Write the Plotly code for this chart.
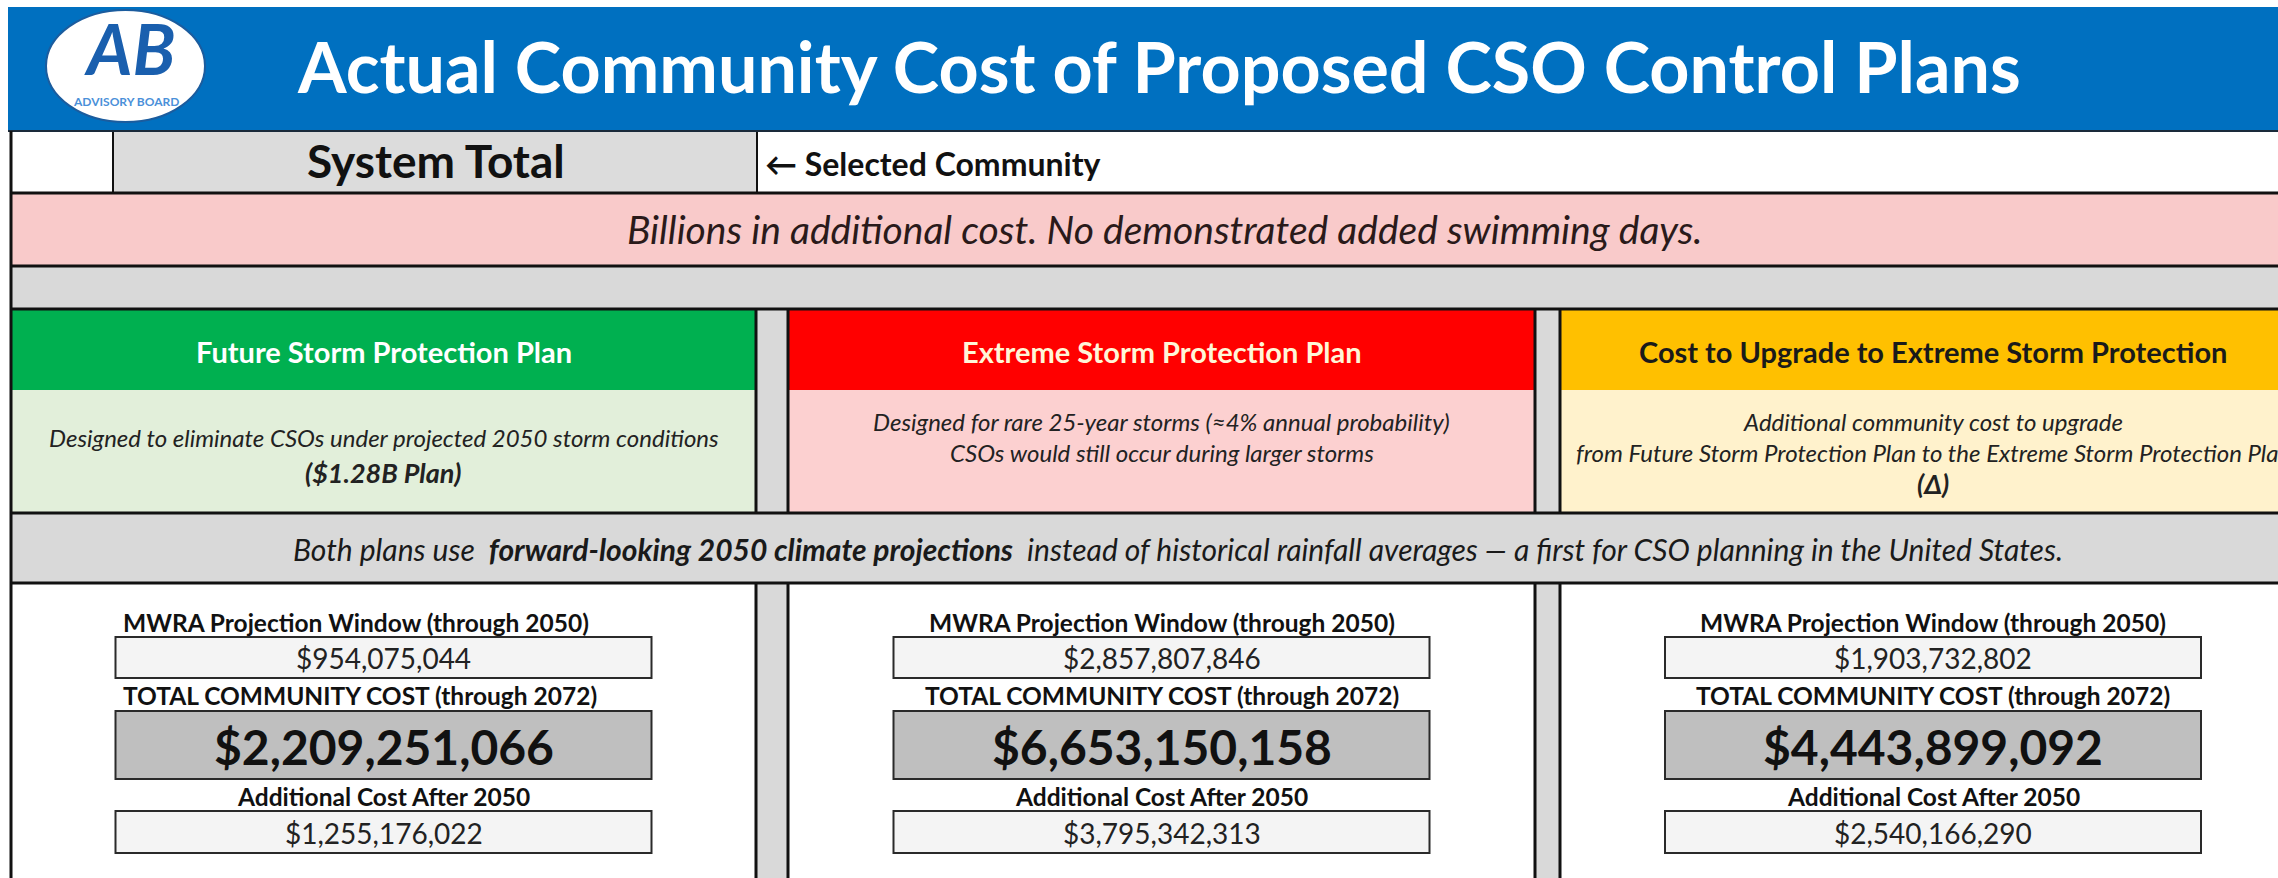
import plotly.graph_objects as go

W, H = 2278, 878

title = "Actual Community Cost of Proposed CSO Control Plans"
community = "System Total"
selected_note = "← Selected Community"
banner = "Billions in additional cost. No demonstrated added swimming days."
climate_note = ("Both plans use  <b>forward-looking 2050 climate projections</b>  instead of historical "
                "rainfall averages — a first for CSO planning in the United States.")

plans = ["Future Storm Protection Plan", "Extreme Storm Protection Plan",
         "Cost to Upgrade to Extreme Storm Protection"]
plan_notes = [
    ["Designed to eliminate CSOs under projected 2050 storm conditions", "<b>($1.28B Plan)</b>"],
    ["Designed for rare 25-year storms (≈4% annual probability)", "CSOs would still occur during larger storms"],
    ["Additional community cost to upgrade",
     "from Future Storm Protection Plan to the Extreme Storm Protection Plan", "<b>(Δ)</b>"],
]
value_labels = ["MWRA Projection Window (through 2050)", "TOTAL COMMUNITY COST (through 2072)",
                "Additional Cost After 2050"]
mwra_2050 = [954075044, 2857807846, 1903732802]
total_2072 = [2209251066, 6653150158, 4443899092]
after_2050 = [1255176022, 3795342313, 2540166290]

head_fill = ["#00b050", "#ff0000", "#ffc000"]
head_font = ["#ffffff", "#fff6d8", "#1a1a1a"]
note_fill = ["#e2efda", "#fcd0d0", "#fff2cc"]

FONT = "Lato"
INK = "#111111"

# column extents (pixels); the third column runs past the right edge
cols = [(11, 756), (788, 1535), (1560, 2306)]
seps = [(756, 788), (1535, 1560)]

fig = go.Figure()
shapes = []
ann = []


def rect(x0, y0, x1, y1, fill, line=None, lw=0):
    shapes.append(dict(type="rect", xref="x", yref="y", x0=x0, y0=y0, x1=x1, y1=y1,
                       fillcolor=fill, line=dict(color=line or fill, width=lw), layer="below"))


def hline(y, x0=11, x1=W, lw=3, color=INK):
    shapes.append(dict(type="line", xref="x", yref="y", x0=x0, x1=x1, y0=y, y1=y,
                       line=dict(color=color, width=lw)))


def vline(x, y0, y1, lw=3, color=INK):
    shapes.append(dict(type="line", xref="x", yref="y", x0=x, x1=x, y0=y0, y1=y1,
                       line=dict(color=color, width=lw)))


def text(x, y, s, size, color=INK, xanchor="center"):
    ann.append(dict(x=x, y=y, xref="x", yref="y", text=s, showarrow=False,
                    xanchor=xanchor, yanchor="middle",
                    font=dict(family=FONT, size=size, color=color)))


# title band with logo
rect(8, 7, W, 131, "#0070c0")
shapes.append(dict(type="circle", xref="x", yref="y", x0=46, y0=10, x1=205, y1=122,
                   fillcolor="#ffffff", line=dict(color="#1b5c9e", width=2)))
text(129, 48, "<b><i>AB</i></b>", 70, "#1a5fae")
text(126, 101, "<b>ADVISORY BOARD</b>", 12, "#4a90d9")
text(1159, 66, "<b>" + title + "</b>", 70, "#ffffff")

# selected community row
rect(11, 131, 113, 193, "#ffffff")
rect(113, 131, 757, 193, "#dcdcdc")
rect(757, 131, W, 193, "#ffffff")
vline(113, 131, 193, 2)
vline(757, 131, 193, 2)
text(436, 160, "<b>" + community + "</b>", 46)
text(763, 163, "<b>" + selected_note + "</b>", 32, xanchor="left")

# banner + spacer
rect(11, 193, W, 266, "#f9caca")
text(1164, 229, "<i>" + banner + "</i>", 39, "#2a1a1a")
rect(11, 266, W, 309, "#d9d9d9")

# plan headers and notes
for i, (a, b) in enumerate(cols):
    c = (a + b) / 2
    rect(a, 309, b, 390, head_fill[i])
    rect(a, 390, b, 513, note_fill[i])
    text(c, 351, "<b>" + plans[i] + "</b>", 29, head_font[i])
    lines = plan_notes[i]
    top = 437 if i == 0 else 421
    step = 35 if i == 0 else 31
    for k, s in enumerate(lines):
        size = 27 if s.startswith("<b>") else 24
        text(c, top + k * step, "<i>" + s + "</i>", size, "#222222")

# climate note row
rect(11, 513, W, 583, "#d9d9d9")
text(1178, 549, "<i>" + climate_note + "</i>", 30, "#1a1a1a")

# value panels
for i, (a, b) in enumerate(cols):
    rect(a, 583, b, H, "#ffffff")
    c = (a + b) / 2
    bx0, bx1 = c - 268, c + 268
    for y0, y1, fill in [(637, 678, "#f4f4f4"), (711, 779, "#bfbfbf"), (811, 853, "#f4f4f4")]:
        rect(bx0, y0, bx1, y1, fill, "#2a2a2a", 2)
    if i == 0:
        text(bx0 + 5, 622, "<b>" + value_labels[0] + "</b>", 24.5, xanchor="left")
        text(bx0 + 5, 695, "<b>" + value_labels[1] + "</b>", 24.5, xanchor="left")
    else:
        text(c, 622, "<b>" + value_labels[0] + "</b>", 24.5)
        text(c, 695, "<b>" + value_labels[1] + "</b>", 24.5)
    text(c, 796, "<b>" + value_labels[2] + "</b>", 24.5)
    text(c, 658, f"${mwra_2050[i]:,}", 28, "#222222")
    text(c, 746, f"<b>${total_2072[i]:,}</b>", 48, "#111111")
    text(c, 833, f"${after_2050[i]:,}", 28, "#222222")

# column separators
for a, b in seps:
    rect(a, 309, b, 513, "#d9d9d9")
    rect(a, 583, b, H, "#d9d9d9")
    vline(a, 309, 513)
    vline(b, 309, 513)
    vline(a, 583, H)
    vline(b, 583, H)

# row rules
hline(131, 8, W, 2, "#1a2a3a")
for y in [193, 266, 309, 513, 583]:
    hline(y)
vline(11, 131, H)

fig.update_layout(
    width=W, height=H, margin=dict(l=0, r=0, t=0, b=0),
    paper_bgcolor="#ffffff", plot_bgcolor="#ffffff",
    shapes=shapes, annotations=ann, showlegend=False,
    xaxis=dict(range=[0, W], visible=False, fixedrange=True),
    yaxis=dict(range=[H, 0], visible=False, fixedrange=True),
)

fig.write_html("out.html", config={"displayModeBar": False},
               post_script="document.body.style.margin='0';")
